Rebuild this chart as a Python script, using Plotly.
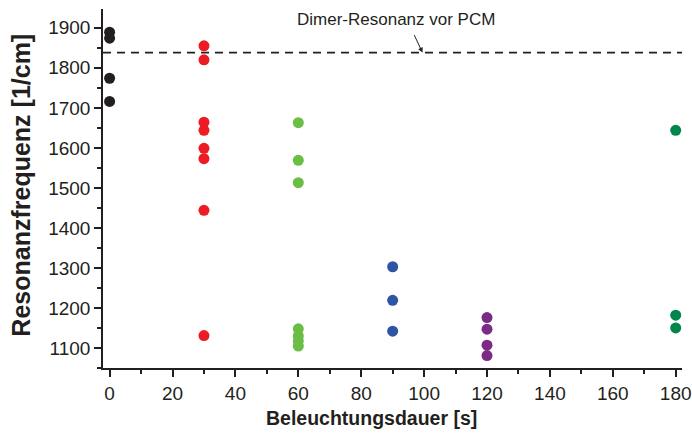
import plotly.graph_objects as go

# Data
series_names = ["0 s", "30 s", "60 s", "90 s", "120 s", "180 s"]
x_black = [0, 0, 0, 0]
y_black = [1889, 1874, 1774, 1716]
x_red = [30, 30, 30, 30, 30, 30, 30, 30]
y_red = [1855, 1820, 1664, 1644, 1599, 1573, 1444, 1131]
x_lgreen = [60, 60, 60, 60, 60, 60, 60]
y_lgreen = [1663, 1569, 1513, 1148, 1130, 1118, 1105]
x_blue = [90, 90, 90]
y_blue = [1303, 1219, 1142]
x_purple = [120, 120, 120, 120]
y_purple = [1176, 1147, 1107, 1081]
x_dgreen = [180, 180, 180]
y_dgreen = [1644, 1182, 1150]
colors = ["#231f20", "#ed1c24", "#6abd45", "#2e55a5", "#7b2a86", "#00854a"]
dimer_value = 1838
x_ticks = [0, 20, 40, 60, 80, 100, 120, 140, 160, 180]
y_ticks = [1100, 1200, 1300, 1400, 1500, 1600, 1700, 1800, 1900]

xs = [x_black, x_red, x_lgreen, x_blue, x_purple, x_dgreen]
ys = [y_black, y_red, y_lgreen, y_blue, y_purple, y_dgreen]

FONT = "Liberation Sans, Arial"
INK = "#231f20"

fig = go.Figure()
for name, xv, yv, c in zip(series_names, xs, ys, colors):
    fig.add_trace(go.Scatter(x=xv, y=yv, mode="markers", name=name,
                             marker=dict(color=c, size=11, line=dict(width=0)),
                             cliponaxis=False, showlegend=False))

fig.add_shape(type="line", xref="x", yref="y", x0=-2.1, x1=182,
              y0=dimer_value, y1=dimer_value,
              line=dict(color=INK, width=1.8, dash="8px,6px"))

fig.add_annotation(x=99.5, y=dimer_value, xref="x", yref="y",
                   ax=-9, ay=-19, text="", showarrow=True, arrowhead=2,
                   arrowsize=1, arrowwidth=1, arrowcolor=INK)
fig.add_annotation(x=59, y=1921, xref="x", yref="y", text="Dimer-Resonanz vor PCM",
                   showarrow=False, xanchor="left", yanchor="middle",
                   font=dict(family=FONT, size=17, color=INK))

# axis titles
fig.add_annotation(x=0.464, y=-0.138, xref="paper", yref="paper",
                   text="<b>Beleuchtungsdauer [s]</b>", showarrow=False,
                   xanchor="center", yanchor="middle",
                   font=dict(family=FONT, size=19.5, color=INK))
fig.add_annotation(x=-0.1416, y=0.508, xref="paper", yref="paper",
                   text="<b>Resonanzfrequenz [1/cm]</b>", showarrow=False,
                   textangle=-90, xanchor="center", yanchor="middle",
                   font=dict(family=FONT, size=25, color=INK))

fig.update_xaxes(range=[-2.1, 182], tickvals=x_ticks, ticks="outside", ticklen=7,
                 tickwidth=1.5, tickcolor=INK, showline=True, linecolor=INK,
                 linewidth=1.5, showgrid=False, zeroline=False, automargin=False,
                 minor=dict(dtick=10, ticks="outside", ticklen=4, tickwidth=1.5, tickcolor=INK),
                 tickfont=dict(family=FONT, size=19, color=INK))
fig.update_yaxes(range=[1050, 1947], tickvals=y_ticks, ticks="outside", ticklen=7,
                 tickwidth=1.5, tickcolor=INK, showline=True, linecolor=INK,
                 linewidth=1.5, showgrid=False, zeroline=False, automargin=False,
                 minor=dict(dtick=50, ticks="outside", ticklen=4, tickwidth=1.5, tickcolor=INK),
                 tickfont=dict(family=FONT, size=19, color=INK))

fig.update_layout(width=692, height=434, margin=dict(l=103, r=10, t=9, b=66, autoexpand=False),
                  plot_bgcolor="white", paper_bgcolor="white")

fig.write_html("out.html")
